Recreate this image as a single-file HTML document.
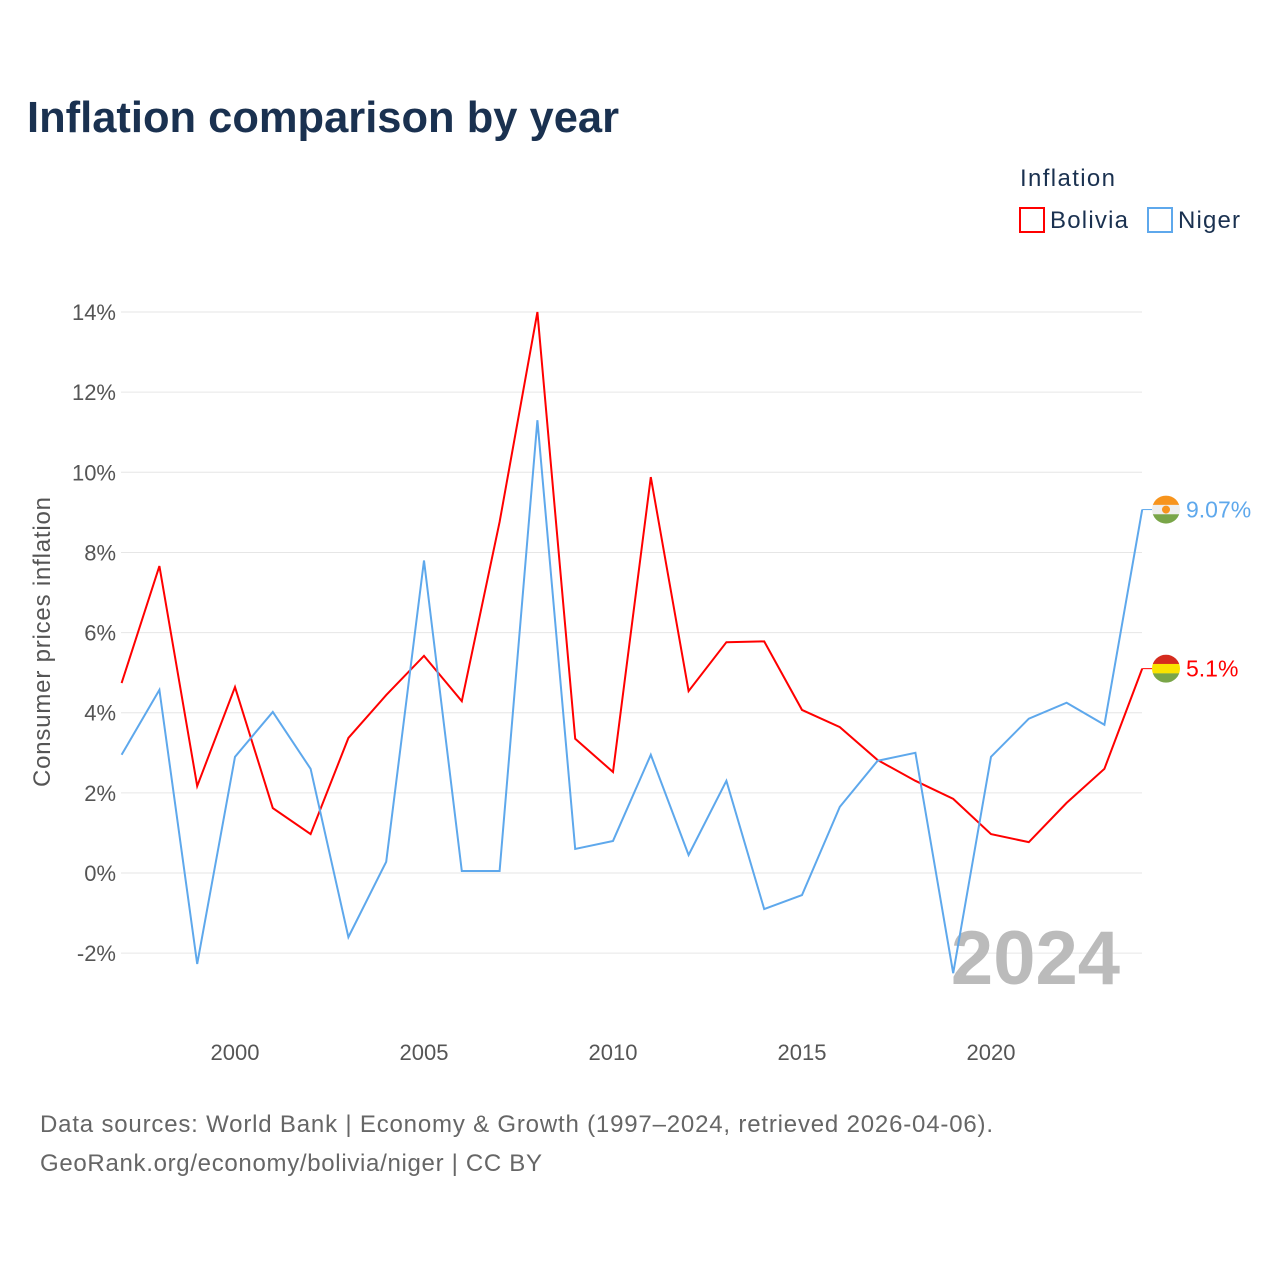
<!DOCTYPE html>
<html><head><meta charset="utf-8"><style>
body{margin:0;background:#fff;font-family:"Liberation Sans",sans-serif}
</style></head><body>
<svg width="1280" height="1280" xmlns="http://www.w3.org/2000/svg" font-family="Liberation Sans, sans-serif">
<defs>
<clipPath id="cb"><circle cx="1166" cy="0" r="14"/></clipPath>
</defs>
<text x="27" y="132" font-size="44" font-weight="bold" fill="#1a3150" textLength="592" lengthAdjust="spacingAndGlyphs">Inflation comparison by year</text>
<text x="1020" y="186" font-size="24" fill="#1a3150" textLength="95">Inflation</text>
<g><rect x="1020" y="208" width="24" height="24" fill="none" stroke="#f00" stroke-width="2"/><text x="1050" y="228" font-size="24" fill="#1a3150" textLength="78">Bolivia</text></g>
<g><rect x="1148" y="208" width="24" height="24" fill="none" stroke="#5ea8ec" stroke-width="2"/><text x="1178" y="228" font-size="24" fill="#1a3150" textLength="62">Niger</text></g>
<g id="grid"></g>
<g id="yt"></g>
<g id="xt"></g>
<text transform="translate(50,642) rotate(-90)" text-anchor="middle" font-size="24" fill="#555" textLength="290">Consumer prices inflation</text>
<text x="1120" y="984" text-anchor="end" font-size="76" font-weight="bold" fill="#bbb">2024</text>
<g id="series"></g>
<text x="40" y="1132" font-size="24" fill="#666" textLength="953">Data sources: World Bank | Economy &amp; Growth (1997–2024, retrieved 2026-04-06).</text>
<text x="40" y="1171" font-size="24" fill="#666" textLength="502">GeoRank.org/economy/bolivia/niger | CC BY</text>
</svg>
<script>
const years=[1997,1998,1999,2000,2001,2002,2003,2004,2005,2006,2007,2008,2009,2010,2011,2012,2013,2014,2015,2016,2017,2018,2019,2020,2021,2022,2023,2024];
const bolivia=[4.74,7.66,2.17,4.64,1.62,0.97,3.37,4.44,5.42,4.29,8.76,14.0,3.35,2.52,9.88,4.54,5.76,5.78,4.07,3.64,2.82,2.30,1.85,0.97,0.77,1.75,2.60,5.1];
const niger=[2.95,4.57,-2.27,2.9,4.02,2.6,-1.6,0.28,7.8,0.05,0.05,11.3,0.6,0.8,2.95,0.45,2.3,-0.9,-0.55,1.65,2.8,3.0,-2.5,2.9,3.85,4.25,3.7,9.07];
const yTicks=[-2,0,2,4,6,8,10,12,14];
const xTicks=[2000,2005,2010,2015,2020];
const NS="http://www.w3.org/2000/svg";
const X=v=>121.6+(v-1997)*37.8, Y=v=>873-v*40.07;
function mk(t,a,p){const e=document.createElementNS(NS,t);for(const k in a)e.setAttribute(k,a[k]);p.appendChild(e);return e;}
const grid=document.getElementById('grid'),yt=document.getElementById('yt'),xt=document.getElementById('xt'),se=document.getElementById('series');
yTicks.forEach(v=>{
 const l=mk('line',{x1:121,x2:1142,y1:Y(v),y2:Y(v),stroke:'#e6e6e6','stroke-width':1},grid);
 
 
 const t=mk('text',{x:116,y:Y(v)+8,'text-anchor':'end','font-size':22,fill:'#555'},yt);
 t.textContent=v+'%';
 
 
});
xTicks.forEach(v=>{
 const t=mk('text',{x:X(v),y:1060,'text-anchor':'middle','font-size':22,fill:'#555'},xt);
 t.textContent=v;
 
 
});
function series(vals,col,name,flagTop,flagBot,mid,label){
 const d=vals.map((v,i)=>(i?'L':'M')+X(years[i])+','+Y(v)).join(' ');
 const p=mk('path',{d:d,fill:'none',stroke:col,'stroke-width':2},se);
 
 
 const last=vals[vals.length-1],ly=Y(last),lx=X(years[years.length-1]);
 mk('line',{x1:lx,x2:lx+10,y1:ly,y2:ly,stroke:col,'stroke-width':1},se);
 const g=mk('g',{transform:'translate(0,'+ly+')'},se);
 
 
 const gi=mk('g',{'clip-path':'url(#cb)'},g);
 mk('rect',{x:1152,y:-14,width:28,height:9.5,fill:flagTop},gi);
 mk('rect',{x:1152,y:-4.7,width:28,height:9.5,fill:mid},gi);
 mk('rect',{x:1152,y:4.7,width:28,height:9.5,fill:flagBot},gi);
 const t=mk('text',{x:1186,y:ly+8,'font-size':23,fill:col},se);
 t.textContent=label;
 
 
}
series(bolivia,'#f00','bolivia','#d52b1e','#79a548','#f9e300',bolivia[bolivia.length-1]+'%');
series(niger,'#5ea8ec','niger','#f7941d','#79a548','#eeeeee',niger[niger.length-1]+'%');
mk('circle',{cx:1166,cy:Y(niger[niger.length-1]),r:4,fill:'#f7941d'},se);
</script>
</body></html>
